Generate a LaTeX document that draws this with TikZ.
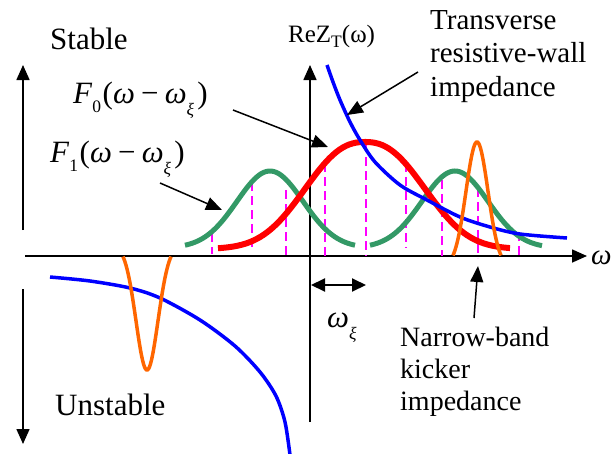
\documentclass[tikz,border=0pt]{standalone}
\usepackage{fontspec}
\setmainfont{Liberation Serif}
\newfontfamily\timesf{Liberation Serif}
\usetikzlibrary{arrows.meta}
\definecolor{cblue}{RGB}{0,0,255}
\definecolor{cred}{RGB}{255,0,0}
\definecolor{cgreen}{RGB}{51,153,102}
\definecolor{corange}{RGB}{255,102,0}
\definecolor{cmag}{RGB}{255,0,255}
\newcommand{\lowsub}[2][-0.3em]{\raisebox{#1}{\fontsize{17.5}{17.5}\selectfont #2}}
\newcommand{\flabel}[1]{\textit{F}\lowsub{#1}\kern0.05em(\textit{ω}\hspace{0.2em}−\hspace{0.2em}\textit{ω}\lowsub[-0.4em]{\textit{ξ}}\kern0.1em)}
\begin{document}
\begin{tikzpicture}[x=1pt,y=-1pt,
  axis/.style={line width=1.6pt,-{Triangle[length=15pt,width=13pt]}},
  ann/.style={line width=1.5pt,-{Triangle[length=16pt,width=13pt]}},
  lbl/.style={inner sep=0pt,anchor=base west,font=\timesf\fontsize{29}{33.5}\selectfont},
  big/.style={font=\timesf\fontsize{31}{31}\selectfont},
  fl/.style={font=\timesf\fontsize{31}{31}\selectfont},
  samp/.style={cmag,line width=2.7pt,dash pattern=on 9pt off 5pt},
  bluec/.style={cblue,line width=3.5pt},
  redc/.style={cred,line width=6pt},
  greenc/.style={cgreen,line width=5pt},
  orangec/.style={corange,line width=3.5pt}]
\useasboundingbox (0,0) rectangle (613,453);
% axes
\coordinate (hx0) at (25,256); \coordinate (hx1) at (587,256);
\draw[axis] (hx0) -- (hx1);
\coordinate (vy0) at (310,422); \coordinate (vy1) at (310,65);
\draw[axis] (vy0) -- (vy1);
\coordinate (su0) at (23,230); \coordinate (su1) at (23,65);
\draw[axis] (su0) -- (su1);
\coordinate (sd0) at (23,289); \coordinate (sd1) at (23,444);
\draw[axis] (sd0) -- (sd1);
% sample lines
\foreach \xx/\ta/\tb in {212/233/254,252/182/248,286/190/256,325/163/256,366/143/256,406/163/248,442/180/256,478/188/258,519/232/256}
  \draw[samp] (\xx,\ta) -- (\xx,\tb);
% green
\draw[greenc] plot[domain=185:355,samples=70] (\x,{248-77*exp(-(\x-270)^2/(2*33^2))});
\draw[greenc] plot[domain=370:542,samples=70] (\x,{248-77*exp(-(\x-455)^2/(2*33^2))});
% red
\draw[redc] plot[domain=218:510,samples=90] (\x,{249-107*exp(-pow(abs(\x-365)/75.6+0.0001,2.39))});
% blue
\draw[bluec] plot[smooth] coordinates {(327,65) (333,82) (340,100) (350,122) (360,140) (375,162) (400,185) (427,200) (460,217) (490,227) (520,234) (567,238)};
\draw[bluec] plot[smooth] coordinates {(50,277) (90,281) (130,288) (160,298) (200,320) (235,346) (260,372) (276,396) (285,422) (290,455)};
% orange
\draw[orangec] plot[domain=453:501,samples=50] (\x,{267-125*exp(-(\x-477)^2/242)});
\draw[orangec] plot[domain=123:171,samples=50] (\x,{245+125*exp(-(\x-147)^2/242)});
% labels
\node[lbl,big] (stable) at (50,49) {Stable};
\node[lbl,big] (unstable) at (55,415) {Unstable};
\node[lbl,font=\timesf\fontsize{25}{25}\selectfont] (rez) at (288,42) {ReZ\lowsub[-0.2em]{T}(ω)};
\node[lbl,font=\timesf\fontsize{29}{29}\selectfont] (omega) at (591,264) {\textit{ω}};
\node[lbl,fl] (f0) at (73,103) {\flabel{0}};
\node[lbl,fl] (f1) at (50,162) {\flabel{1}};
\node[lbl,fl] (wxi) at (327,327) {\textit{ω}\lowsub[-0.4em]{\textit{ξ}}};
\node[lbl,align=left,anchor=north west] (trans) at (430,10) {Transverse\\resistive-wall\\impedance};
\node[lbl,align=left,anchor=north west,font=\timesf\fontsize{28}{32}\selectfont] (narrow) at (400,327) {Narrow-band\\kicker\\impedance};
% annotation arrows
\coordinate (f0s) at (233,110); \coordinate (f0e) at (328,147);
\draw[ann] (f0s) -- (f0e);
\coordinate (f1s) at (160,183); \coordinate (f1e) at (222,210);
\draw[ann] (f1s) -- (f1e);
\coordinate (trs) at (418,72); \coordinate (tre) at (347,115);
\draw[ann] (trs) -- (tre);
\coordinate (nbs) at (474,318); \coordinate (nbe) at (478,266);
\draw[ann] (nbs) -- (nbe);
\coordinate (wx0) at (311,285); \coordinate (wx1) at (366,285);
\draw[line width=2pt,{Triangle[length=14pt,width=13pt]}-{Triangle[length=14pt,width=13pt]}] (wx0) -- (wx1);
\end{tikzpicture}
\end{document}
